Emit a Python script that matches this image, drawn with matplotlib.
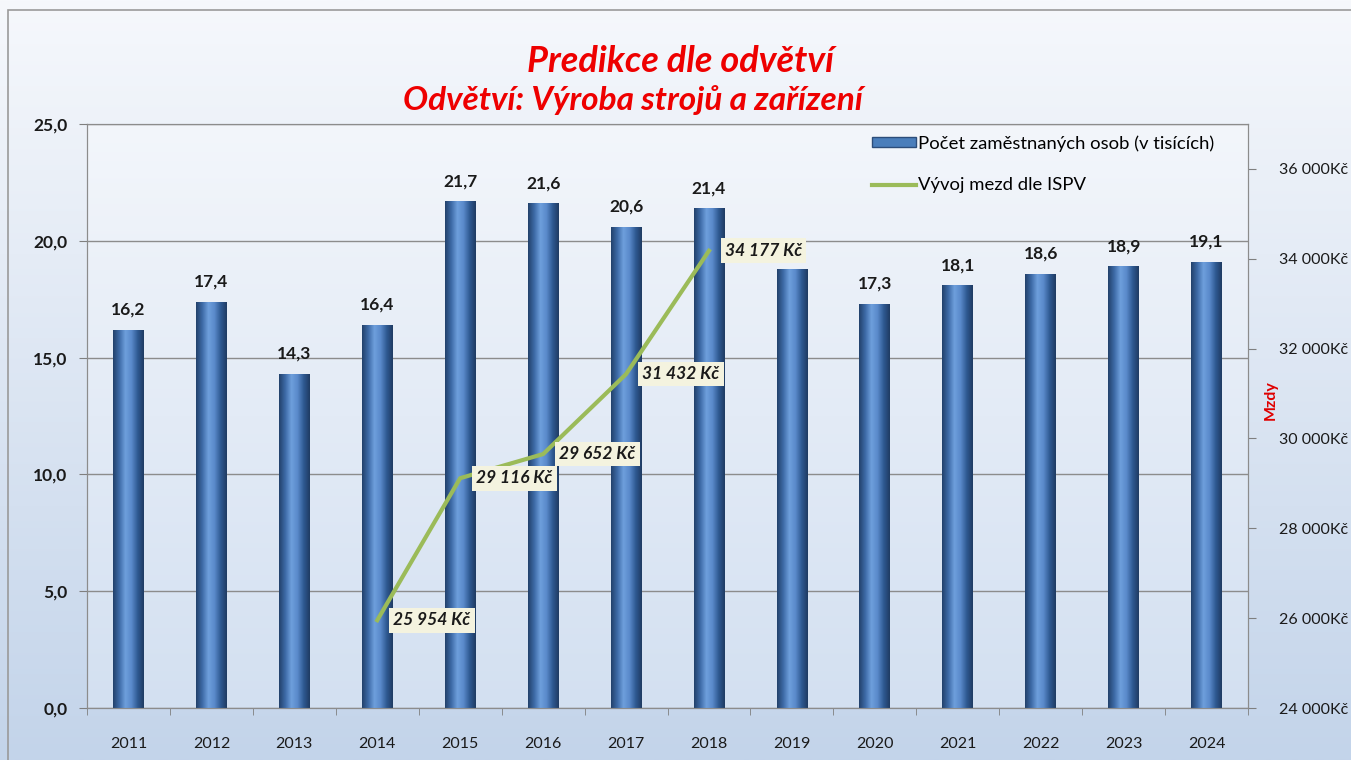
import matplotlib
matplotlib.use("Agg")
import matplotlib.pyplot as plt
from matplotlib.patches import Patch, Rectangle
from matplotlib.lines import Line2D
import numpy as np

plt.rcParams['font.family'] = ['Lato', 'DejaVu Sans']

# data
years = ['2011', '2012', '2013', '2014', '2015', '2016', '2017',
         '2018', '2019', '2020', '2021', '2022', '2023', '2024']
employees = [16.2, 17.4, 14.3, 16.4, 21.7, 21.6, 20.6,
             21.4, 18.8, 17.3, 18.1, 18.6, 18.9, 19.1]
wage_years = ['2014', '2015', '2016', '2017', '2018']
wages = [25954, 29116, 29652, 31432, 34177]

left_ticks = [0, 5, 10, 15, 20, 25]
right_ticks = [24000, 26000, 28000, 30000, 32000, 34000, 36000]

# bar label hidden behind the 2018 wage label in the original
hidden_labels = ['2019']

fig = plt.figure(figsize=(13.51, 7.60), dpi=100)

# figure background gradient and frame
bg = fig.add_axes([0, 0, 1, 1], zorder=-10)
grad = np.linspace(0, 1, 256).reshape(-1, 1)
bg.imshow(grad, aspect='auto', extent=[0, 1, 0, 1],
          cmap=matplotlib.colors.LinearSegmentedColormap.from_list('bg', ['#c3d4ea', '#f6f8fc']),
          origin='lower')
bg.add_patch(Rectangle((8 / 1351, -0.1), 1.1, 1 - 10 / 760 + 0.1, fill=False,
                       edgecolor='#9a9a9a', lw=1.2))
bg.set_xlim(0, 1)
bg.set_ylim(0, 1)
bg.axis('off')

ax = fig.add_axes([87 / 1351, 52 / 760, 1161 / 1351, 584 / 760])
ax.set_facecolor('none')
ax.imshow(grad, aspect='auto', extent=[0, 1, 0, 1], transform=ax.transAxes,
          cmap=matplotlib.colors.LinearSegmentedColormap.from_list('pa', ['#d3e0f1', '#f3f6fb']),
          origin='lower', zorder=0)

x = np.arange(len(years))
bars = ax.bar(x, employees, width=0.37, color='#4a7ebb', zorder=2)

# cylinder-like shading on bars
shade = matplotlib.colors.LinearSegmentedColormap.from_list(
    'cyl', ['#22416b', '#3d6aa6', '#6e9fdc', '#5a8acb', '#2f5a92', '#1f3b62'])
hgrad = np.linspace(0, 1, 128).reshape(1, -1)
for b in bars:
    x0, y0 = b.get_x(), b.get_y()
    im = ax.imshow(hgrad, aspect='auto', cmap=shade,
                   extent=[x0, x0 + b.get_width(), y0, y0 + b.get_height()], zorder=3)
    im.set_clip_path(b)

for xi, v, yr in zip(x, employees, years):
    if yr in hidden_labels:
        continue
    ax.annotate(f"{v:.1f}".replace('.', ','), (xi, v), xytext=(0, 12),
                textcoords='offset pixels', ha='center', va='bottom',
                fontsize=12.5, fontweight='bold', color='#1a1a1a', zorder=5)

ax.set_xlim(-0.45, 13.42)
ax.set_ylim(0, 25)
ax.set_yticks(left_ticks)
ax.set_yticklabels([f"{t:.1f}".replace('.', ',') for t in left_ticks],
                   fontsize=12.5, fontweight='bold', color='#1a1a1a')
ax.set_xticks(x)
ax.set_xticklabels(years, fontsize=11.5, color='#1a1a1a')
ax.set_xticks(np.arange(len(years) + 1) - 0.5, minor=True)
ax.tick_params(axis='x', which='major', length=0, pad=21)
ax.tick_params(axis='x', which='minor', length=5, color='#7f7f7f')
ax.tick_params(axis='y', length=6, color='#7f7f7f', pad=8)
ax.grid(axis='y', color='#8c8c8c', lw=1, zorder=1)
ax.set_axisbelow(True)
for s in ax.spines.values():
    s.set_color('#8c8c8c')

ax2 = ax.twinx()
wx = [years.index(y) for y in wage_years]
ax2.plot(wx, wages, color='#9bbb59', lw=3, zorder=4)
for xi, w in zip(wx, wages):
    lab = f"{w:,} Kč".replace(',', ' ')
    ax2.annotate(lab, (xi, w), xytext=(16, 0), textcoords='offset pixels',
                 ha='left', va='center', fontsize=12.5, fontweight='bold',
                 style='italic', color='#1a1a1a',
                 bbox=dict(boxstyle='square,pad=0.25', fc='#f4f3df', ec='none'),
                 zorder=6)
ax2.set_ylim(24000, 37000)
ax2.set_yticks(right_ticks)
ax2.set_yticklabels([f"{t // 1000} 000Kč" for t in right_ticks],
                    fontsize=11.5, color='#1a1a1a')
ax2.tick_params(axis='y', length=6, color='#7f7f7f', pad=16)
ax2.set_ylabel('Mzdy', color='#e00000', fontweight='bold', fontsize=11.5)
ax2.yaxis.set_label_coords(1.0138, 0.527)
for s in ax2.spines.values():
    s.set_color('#8c8c8c')

handles = [Patch(facecolor='#4a7ebb', edgecolor='#2c4d7a'),
           Line2D([0], [0], color='#9bbb59', lw=3)]
ax2.legend(handles, ['Počet zaměstnaných osob (v tisících)', 'Vývoj mezd dle ISPV'],
           loc='upper left', bbox_to_anchor=(872 / 1351, 1 - 135 / 760),
           bbox_transform=fig.transFigure, frameon=False, fontsize=13.3,
           handlelength=2.4, handleheight=0.5, handletextpad=0.1,
           labelspacing=1.4, borderpad=0, borderaxespad=0)

fig.text(681 / 1351, 1 - 62 / 760, 'Predikce dle odvětví', ha='center', va='center',
         fontsize=26, fontweight='bold', style='italic', color='#ee0000')
fig.text(633 / 1351, 1 - 100 / 760, 'Odvětví: Výroba strojů a zařízení', ha='center',
         va='center', fontsize=24, fontweight='bold', style='italic', color='#ee0000')

fig.savefig('out.png', dpi=100)
